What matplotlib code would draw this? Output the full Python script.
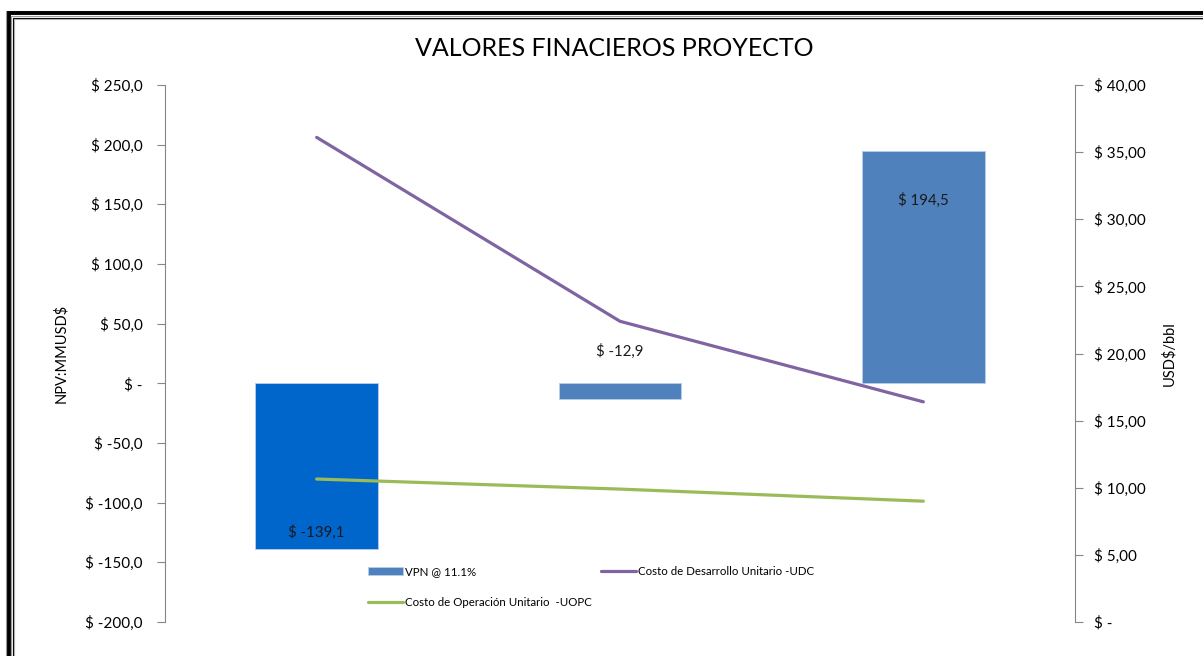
import matplotlib
matplotlib.use('Agg')

from matplotlib import pyplot as plt
from matplotlib.patches import Rectangle
from matplotlib.ticker import FuncFormatter, MultipleLocator

import numpy as np

# series
cases = ['Caso 1', 'Caso 2', 'Caso 3']
vpn = [-139.1, -12.9, 194.5]
udc = [36.1, 22.4, 16.4]
uopc = [10.65, 9.9, 9.0]

bar_colors = ['#0066CC', '#4F81BD', '#4F81BD']
label_offsets = [12, 34, -35]   # points from bar end

W, H = 1203, 656
plt.rcParams['font.family'] = ['Lato', 'DejaVu Sans']

fig = plt.figure(figsize=(W / 100.0, H / 100.0), dpi=100)


def px(x, y):
    return x / float(W), 1 - y / float(H)


# double frame around the chart area, cut by the image edge on right/bottom
def frame(x0, y0, color, lw):
    fx, fy = px(x0, y0)
    fig.patches.append(Rectangle((fx, -0.2), 1.5, fy + 0.2, fill=False,
                                 edgecolor=color, linewidth=lw,
                                 transform=fig.transFigure, clip_on=False))

frame(5.5, 10.5, '#9a9a9a', 0.8)
frame(8.5, 13, '#000000', 2.8)
frame(11, 16, '#9a9a9a', 0.8)
frame(12.8, 17.8, '#000000', 0.8)
frame(14, 19, '#b0b0b0', 0.8)

l, b = px(165, 622)
r, t = px(1075, 85)
ax = fig.add_axes([l, b, r - l, t - b])
ax2 = ax.twinx()

x = np.arange(len(cases))
ax.bar(x, vpn, width=0.405, color=bar_colors, edgecolor='#B9CDE5',
       linewidth=0.6, zorder=2, label='VPN @ 11.1%')
for xi, v, off in zip(x, vpn, label_offsets):
    ax.annotate(('$ %.1f' % v).replace('.', ','),
                (xi, v), xytext=(0, off), textcoords='offset points',
                ha='center', va='center', fontsize=10.8, color='#1a1a1a')

ax2.plot(x, udc, color='#8064A2', lw=2.3, solid_capstyle='round',
         label='Costo de Desarrollo Unitario -UDC')
ax2.plot(x, uopc, color='#9BBB59', lw=2.3, solid_capstyle='round',
         label='Costo de Operación Unitario  -UOPC')

ax.set_xlim(-0.5, 2.5)
ax.set_ylim(-200, 250)
ax2.set_ylim(0, 40)
ax.yaxis.set_major_locator(MultipleLocator(50))
ax2.yaxis.set_major_locator(MultipleLocator(5))


def fmt_left(v, pos):
    if abs(v) < 1e-9:
        return '$ -'
    return ('$ %.1f' % v).replace('.', ',')


def fmt_right(v, pos):
    if abs(v) < 1e-9:
        return '$ -'
    return ('$ %.2f' % v).replace('.', ',')


ax.yaxis.set_major_formatter(FuncFormatter(fmt_left))
ax2.yaxis.set_major_formatter(FuncFormatter(fmt_right))

for a in (ax, ax2):
    for s in ('top', 'bottom'):
        a.spines[s].set_visible(False)
    a.set_xticks([])
ax.tick_params(axis='y', length=6, width=0.8, color='#868686',
               labelsize=11, pad=10)
ax2.tick_params(axis='y', length=6, width=0.8, color='#868686',
                labelsize=11, pad=8)
ax.spines['left'].set_color('#868686')
ax.spines['right'].set_visible(False)
ax2.spines['left'].set_visible(False)
ax2.spines['right'].set_color('#868686')
ax.patch.set_visible(False)
ax.set_zorder(ax2.get_zorder() - 1)
ax2.patch.set_visible(False)

ax.set_ylabel('NPV:MMUSD$', fontsize=10.5, labelpad=12)
ax2.set_ylabel('USD$/bbl', fontsize=10.5, labelpad=11)

fig.text(0.511, 1 - 48 / float(H), 'VALORES FINACIEROS PROYECTO',
         ha='center', va='center', fontsize=18)

h1, l1 = ax.get_legend_handles_labels()
h2, l2 = ax2.get_legend_handles_labels()
handles = [h1[0], h2[1], h2[0]]
labels = [l1[0], l2[1], l2[0]]
leg = ax2.legend(handles, labels, ncol=2, frameon=False, fontsize=8.3,
                 loc='upper left', bbox_to_anchor=px(358, 556),
                 bbox_transform=fig.transFigure, handlelength=3.0,
                 handletextpad=0.2, columnspacing=0.8, labelspacing=1.7)
# legend swatch shows the series colour, not the highlighted first bar
leg.legend_handles[0].set_height(6)
leg.legend_handles[0].set_facecolor('#4F81BD')

fig.savefig('out.png', dpi=100)
